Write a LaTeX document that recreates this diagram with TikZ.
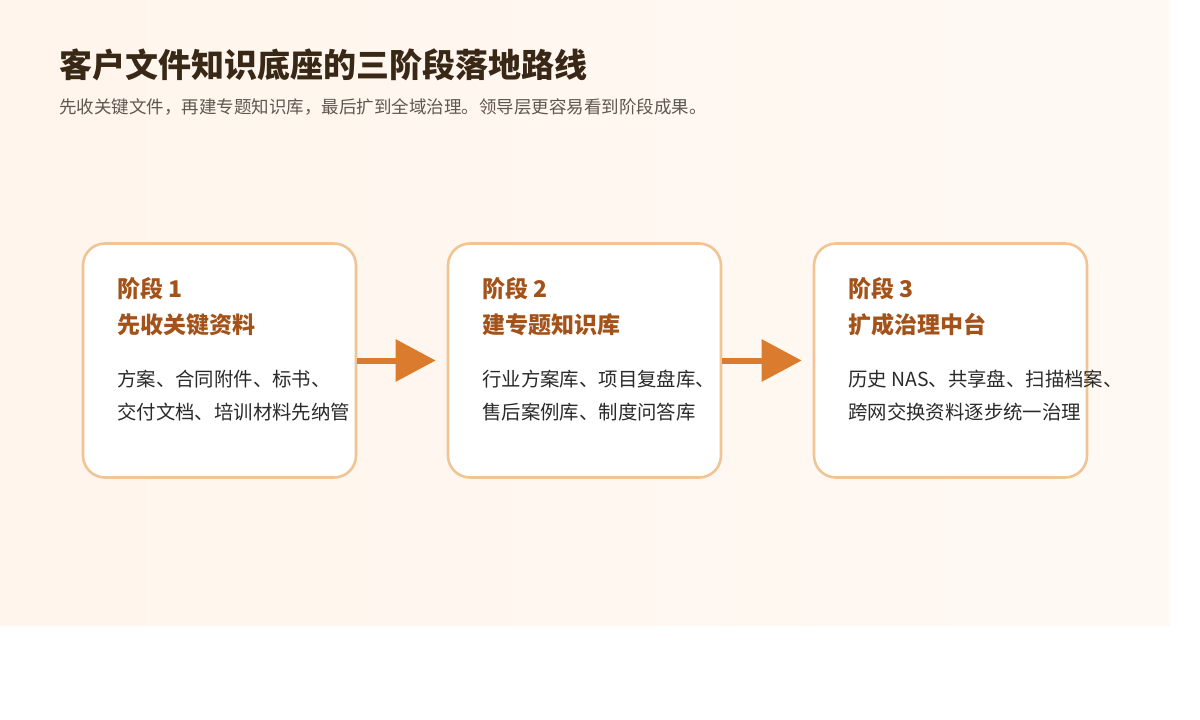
\documentclass[tikz,border=0pt]{standalone}
\usepackage{fontspec}
\setmainfont{Noto Sans CJK SC}
\usetikzlibrary{arrows.meta}
\definecolor{bgA}{HTML}{FFF5EC}
\definecolor{bgB}{HTML}{FFF9F4}
\definecolor{titlec}{HTML}{3A2817}
\definecolor{subc}{HTML}{5E5750}
\definecolor{headc}{HTML}{A3531A}
\definecolor{bodyc}{HTML}{2A2A2A}
\definecolor{edgec}{HTML}{F1C495}
\definecolor{arrowc}{HTML}{DB7B2D}
\tikzset{
  stagebox/.style={draw=edgec,line width=2.6pt,fill=white,rounded corners=22pt,
    minimum width=273pt,minimum height=234pt,inner sep=0pt},
  stagehead/.style={anchor=base west,inner sep=0pt,text=headc,
    font=\fontsize{23}{27}\selectfont\bfseries},
  stagebody/.style={anchor=base west,inner sep=0pt,text=bodyc,
    font=\fontsize{19.4}{23}\selectfont},
  flow/.style={draw=arrowc,line width=6pt,shorten >=11pt,
    -{Triangle[length=40pt,width=41pt]}}
}
\begin{document}
\begin{tikzpicture}[x=1pt,y=-1pt]
    \useasboundingbox (0,0) rectangle (1200,720);
    \shade[left color=bgA,right color=bgB] (0,0) rectangle (1170,625);
    \node[anchor=base west,inner sep=0pt,text=titlec,font=\fontsize{33}{38}\selectfont\bfseries] (title) at (59,77.5) {客户文件知识底座的三阶段落地路线};
    \node[anchor=base west,inner sep=0pt,text=subc,font=\fontsize{17.5}{21}\selectfont] (subtitle) at (59,113) {先收关键文件，再建专题知识库，最后扩到全域治理。领导层更容易看到阶段成果。};
    % stage boxes
    \node[stagebox] (s1) at (219.5,360.5) {};
    \node[stagebox] (s2) at (584.5,360.5) {};
    \node[stagebox] (s3) at (950.5,360.5) {};
    \draw[flow] (s1.east) -- (s2.west);
    \draw[flow] (s2.east) -- (s3.west);
    % stage 1
    \node[stagehead] (h1) at (117,297.5) {阶段 1};
    \node[stagehead] (n1) at (117,333.5) {先收关键资料};
    \node[stagebody] (b1a) at (117,386) {方案、合同附件、标书、};
    \node[stagebody] (b1b) at (117,419) {交付文档、培训材料先纳管};
    % stage 2
    \node[stagehead] (h2) at (482,297.5) {阶段 2};
    \node[stagehead] (n2) at (482,333.5) {建专题知识库};
    \node[stagebody] (b2a) at (482,386) {行业方案库、项目复盘库、};
    \node[stagebody] (b2b) at (482,419) {售后案例库、制度问答库};
    % stage 3
    \node[stagehead] (h3) at (848,297.5) {阶段 3};
    \node[stagehead] (n3) at (848,333.5) {扩成治理中台};
    \node[stagebody] (b3a) at (848,386) {历史 NAS、共享盘、扫描档案、};
    \node[stagebody] (b3b) at (848,419) {跨网交换资料逐步统一治理};
\end{tikzpicture}
\end{document}
